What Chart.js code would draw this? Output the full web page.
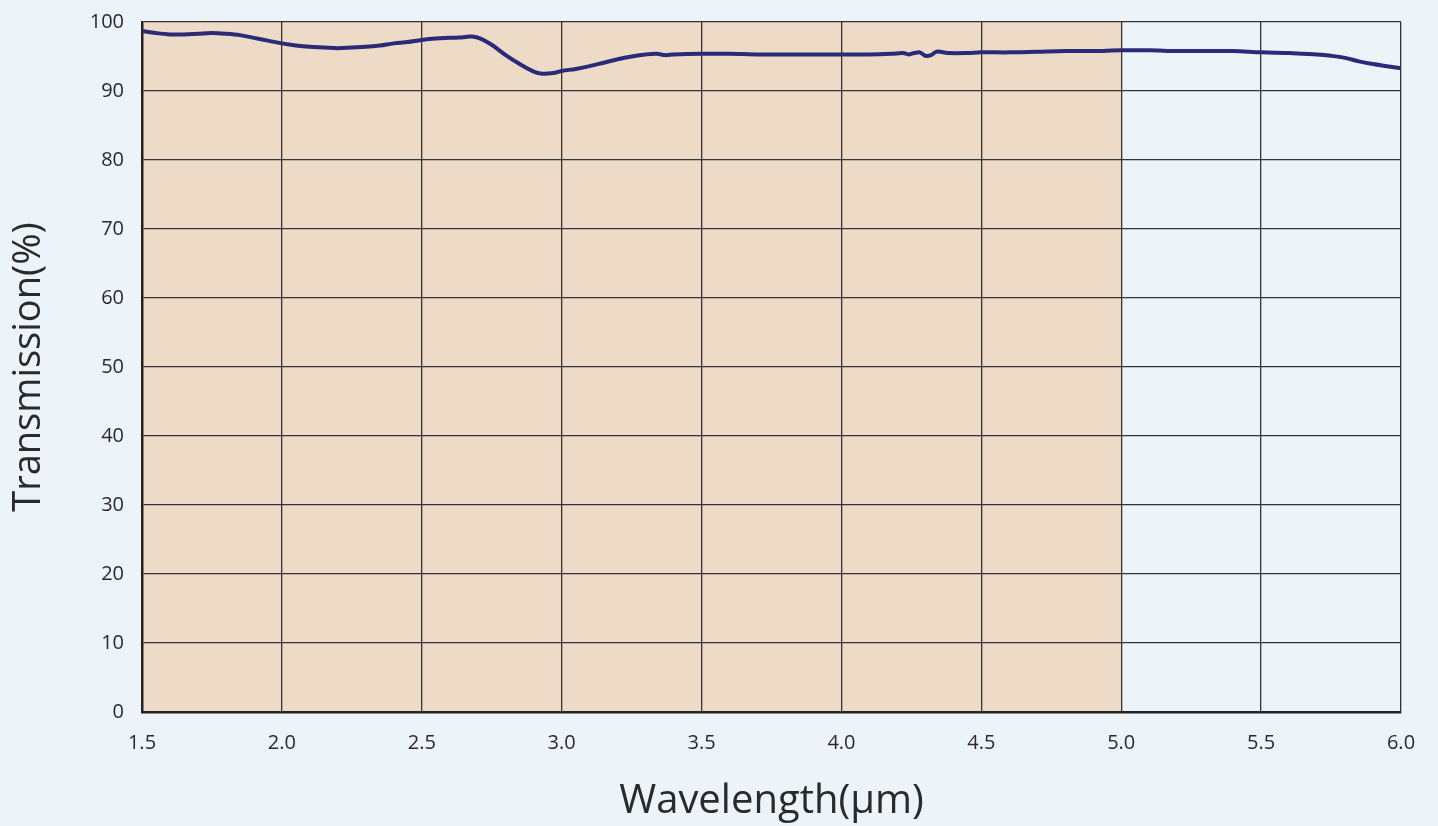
<!DOCTYPE html>
<html>
<head>
<meta charset="utf-8">
<script src="https://cdn.jsdelivr.net/npm/chart.js@4.4.1/dist/chart.umd.min.js"></script>
<style>
	html, body { margin: 0; padding: 0; background: #ECF3F9; }
	#wrap { width: 1438px; height: 826px; }
</style>
</head>
<body>
<div id="wrap"><canvas id="chart"></canvas></div>
<script>
// transmission curve
const WAVELENGTH = [1.50, 1.55, 1.60, 1.65, 1.70, 1.75, 1.80, 1.85, 1.90, 1.95,
	2.00, 2.05, 2.10, 2.15, 2.20, 2.25, 2.30, 2.35, 2.40, 2.45,
	2.50, 2.55, 2.60, 2.65, 2.68, 2.71, 2.75, 2.80, 2.85, 2.90,
	2.93, 2.97, 3.00, 3.05, 3.10, 3.15, 3.20, 3.25, 3.30, 3.34,
	3.37, 3.40, 3.50, 3.60, 3.70, 3.80, 3.90, 4.00, 4.10, 4.18,
	4.22, 4.24, 4.26, 4.28, 4.30, 4.32, 4.34, 4.38, 4.45, 4.50,
	4.60, 4.70, 4.80, 4.90, 5.00, 5.10, 5.20, 5.30, 5.40, 5.50,
	5.60, 5.65, 5.70, 5.75, 5.80, 5.85, 5.90, 5.95, 6.00];
const TRANSMISSION = [98.7, 98.4, 98.2, 98.2, 98.3, 98.4, 98.3, 98.1, 97.7, 97.3,
	96.9, 96.6, 96.4, 96.3, 96.2, 96.3, 96.4, 96.6, 96.9, 97.1,
	97.4, 97.6, 97.7, 97.8, 97.9, 97.6, 96.7, 95.2, 93.9, 92.8,
	92.5, 92.6, 92.9, 93.2, 93.6, 94.1, 94.6, 95.0, 95.3, 95.4,
	95.2, 95.3, 95.4, 95.4, 95.3, 95.3, 95.3, 95.3, 95.3, 95.4,
	95.5, 95.3, 95.5, 95.6, 95.1, 95.2, 95.7, 95.5, 95.5, 95.6,
	95.6, 95.7, 95.8, 95.8, 95.9, 95.9, 95.8, 95.8, 95.8, 95.6,
	95.5, 95.4, 95.3, 95.1, 94.8, 94.3, 93.9, 93.6, 93.3];

// shaded wavelength band
const SHADE_RANGE = [1.5, 5.0];

const X_TICKS = [1.5, 6.0, 0.5]; // min, max, step
const Y_TICKS = [0, 100, 10];

const FONT = "'Open Sans', 'Noto Sans', sans-serif";

// paints the page background and the shaded band under the grid
const backdrop = {
	id: 'backdrop',
	beforeDraw(chart) {
		const ctx = chart.ctx;
		const area = chart.chartArea;
		const x = chart.scales.x;
		ctx.save();
		ctx.fillStyle = '#ECF3F9';
		ctx.fillRect(0, 0, chart.width, chart.height);
		const left = x.getPixelForValue(SHADE_RANGE[0]);
		const right = x.getPixelForValue(SHADE_RANGE[1]);
		ctx.fillStyle = '#EDDAC7';
		ctx.fillRect(left, area.top, right - left, area.bottom - area.top);
		ctx.restore();
	}
};

const points = WAVELENGTH.map((w, i) => ({ x: w, y: TRANSMISSION[i] }));

new Chart(document.getElementById('chart'), {
	type: 'line',
	data: {
		datasets: [{
			data: points,
			borderColor: '#2B2A78',
			borderWidth: 4,
			pointRadius: 0,
			tension: 0.35,
			fill: false
		}]
	},
	options: {
		responsive: true,
		maintainAspectRatio: false,
		animation: false,
		devicePixelRatio: 1,
		layout: { padding: { top: 22, right: 37, left: 0, bottom: 0 } },
		plugins: {
			legend: { display: false },
			tooltip: { enabled: false }
		},
		scales: {
			x: {
				type: 'linear',
				min: X_TICKS[0],
				max: X_TICKS[1],
				afterFit: (scale) => { scale.height = 114; },
				border: { color: '#222', width: 2.5 },
				grid: { color: '#333', lineWidth: 1.3, drawTicks: false },
				ticks: {
					stepSize: X_TICKS[2],
					padding: 19,
					color: '#2a2a2a',
					font: { family: FONT, size: 20 },
					callback: (v) => v.toFixed(1)
				},
				title: {
					display: true,
					text: 'Wavelength(μm)',
					color: '#2a2a2a',
					font: { family: FONT, size: 40 },
					padding: { top: 19, bottom: 0 }
				}
			},
			y: {
				min: Y_TICKS[0],
				max: Y_TICKS[1],
				afterFit: (scale) => {
					scale.width = 142;
					// let the "100" label hang above the plot instead of pushing it down
					scale.paddingTop = 0;
				},
				border: { color: '#222', width: 2.5 },
				grid: { color: '#333', lineWidth: 1.3, drawTicks: false },
				ticks: {
					stepSize: Y_TICKS[2],
					padding: 18,
					color: '#2a2a2a',
					font: { family: FONT, size: 20 }
				},
				title: {
					display: true,
					text: 'Transmission(%)',
					color: '#2a2a2a',
					font: { family: FONT, size: 38 },
					padding: { top: 6, bottom: 0 }
				}
			}
		}
	},
	plugins: [backdrop]
});
</script>
</body>
</html>
